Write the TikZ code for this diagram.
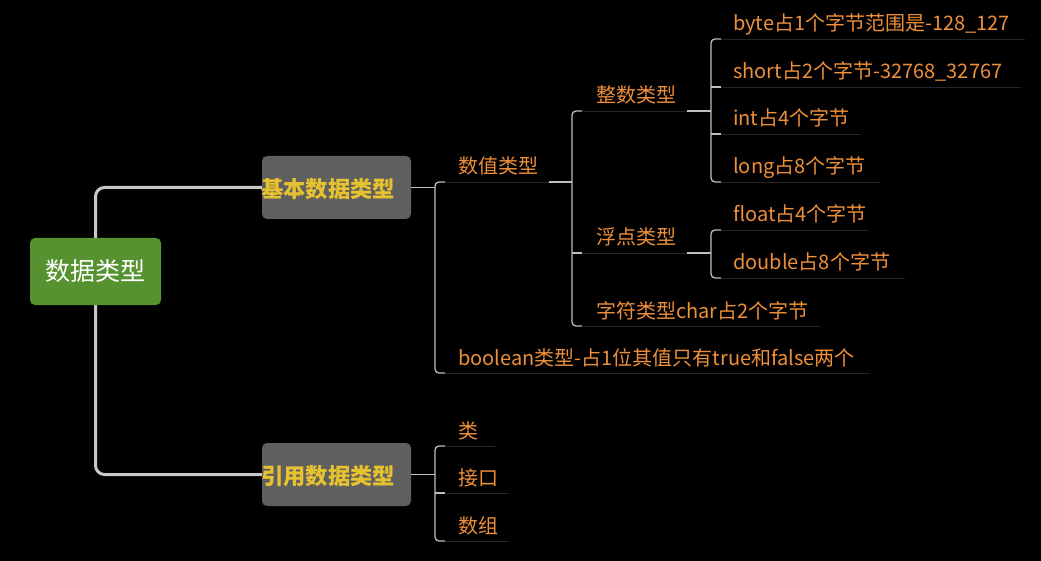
\documentclass[tikz,border=0pt]{standalone}
\usepackage{fontspec}
\setmainfont{Noto Sans CJK SC}
\usetikzlibrary{calc}
\definecolor{bg}{HTML}{000000}
\definecolor{rootg}{HTML}{56922F}
\definecolor{boxg}{HTML}{5F5F5F}
\definecolor{ylw}{HTML}{E6C230}
\definecolor{orng}{HTML}{EE8F3A}
\definecolor{mainc}{HTML}{C8C8C8}
\definecolor{brc}{HTML}{BEBEBE}
\definecolor{ulc}{HTML}{242424}
\begin{document}
\begin{tikzpicture}[x=1pt,y=-1pt,
  txt/.style={text=orng, font=\fontsize{20}{22}\selectfont, inner sep=0pt, anchor=base west},
  boxstyle/.style={fill=boxg, rounded corners=5pt, minimum width=149pt, minimum height=63pt, inner sep=0pt},
  boxtxt/.style={text=ylw, font=\fontsize{22.3}{24}\selectfont\bfseries, inner sep=0pt, anchor=west},
  mainline/.style={draw=mainc, line width=3pt, rounded corners=9pt},
  br/.style={draw=brc, line width=1.3pt, rounded corners=4pt},
  ul/.style={draw=ulc, line width=0.8pt}]
\fill[bg] (0,0) rectangle (1041,561);
\useasboundingbox (0,0) rectangle (1041,561);

% main connectors (drawn first)
\coordinate (rootc) at (95.5,271.5);
\node[boxstyle] (basic) at (336.5,187.5) {};
\node[boxstyle] (ref) at (336.5,474.5) {};
\draw[mainline] (rootc) |- (basic.west);
\draw[mainline] (rootc) |- (ref.west);

% root
\node[fill=rootg, rounded corners=5pt, minimum width=131pt, minimum height=67pt, inner sep=0pt,
      text=white, font=\fontsize{25}{27}\selectfont] (root) at (rootc) {数据类型};

\node[boxtxt] (basicT) at (261,189) {基本数据类型};
\node[boxtxt] (refT) at (261,476) {引用数据类型};

% ---------- children of basic ----------
\node[txt] (sz) at (458,174) {数值类型};
\node[txt] (bool) at (458,365) {boolean类型-占1位其值只有true和false两个};
\draw[br] (basic.east) -- (435,187.5);
\draw[br] (445,182) -- (435,182) -- (435,373) -- (445,373);
\draw[ul] (445,182) -- (549,182);
\draw[ul] (445,373) -- (870,373);

% ---------- children of 数值类型 ----------
\node[txt] (zs) at (596,103) {整数类型};
\node[txt] (fd) at (596,245) {浮点类型};
\node[txt] (zf) at (596,318) {字符类型char占2个字节};
\draw[br] (549,182) -- (572,182);
\draw[br] (582,111) -- (572,111) -- (572,326) -- (582,326);
\draw[br] (572,253) -- (582,253);
\draw[ul] (582,111) -- (687,111);
\draw[ul] (582,253) -- (687,253);
\draw[ul] (582,326) -- (820,326);

% ---------- children of 整数类型 ----------
\node[txt] (byte) at (733,31) {byte占1个字节范围是-128\_127};
\node[txt] (short) at (733,79) {short占2个字节-32768\_32767};
\node[txt] (int) at (733,126) {int占4个字节};
\node[txt] (long) at (733,174) {long占8个字节};
\draw[br] (687,111) -- (711,111);
\draw[br] (721,39) -- (711,39) -- (711,182) -- (721,182);
\draw[br] (711,87) -- (721,87);
\draw[br] (711,134) -- (721,134);
\draw[ul] (721,39) -- (1025,39);
\draw[ul] (721,87) -- (1021,87);
\draw[ul] (721,134) -- (861,134);
\draw[ul] (721,182) -- (880,182);

% ---------- children of 浮点类型 ----------
\node[txt] (float) at (733,222) {float占4个字节};
\node[txt] (double) at (733,270) {double占8个字节};
\draw[br] (687,253) -- (711,253);
\draw[br] (721,230) -- (711,230) -- (711,278) -- (721,278);
\draw[ul] (721,230) -- (868,230);
\draw[ul] (721,278) -- (905,278);

% ---------- children of ref ----------
\node[txt] (lei) at (458,438) {类};
\node[txt] (jk) at (458,485) {接口};
\node[txt] (sj) at (458,533) {数组};
\draw[br] (ref.east) -- (435,474.5);
\draw[br] (445,446) -- (435,446) -- (435,541) -- (445,541);
\draw[br] (435,493) -- (445,493);
\draw[ul] (445,446) -- (495,446);
\draw[ul] (445,493) -- (509,493);
\draw[ul] (445,541) -- (509,541);
\end{tikzpicture}
\end{document}
